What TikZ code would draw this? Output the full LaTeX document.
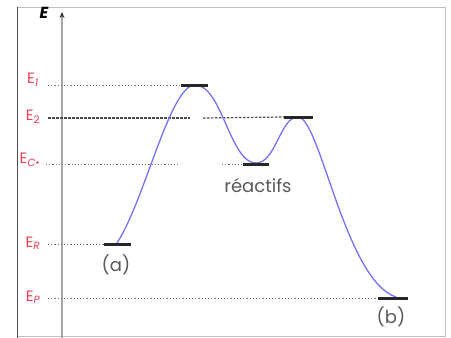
\documentclass[tikz,border=0pt]{standalone}
\usepackage{fontspec}
\setmainfont{Poppins}
\usetikzlibrary{arrows.meta}
\definecolor{lvlred}{RGB}{238,60,80}
\definecolor{curveblue}{RGB}{115,115,250}
\tikzset{
  frameline/.style={draw=black!25, line width=0.8pt},
  guide/.style={draw=black!55, line width=1pt, dash pattern=on 1.2pt off 2pt},
  guidedark/.style={draw=black!70, line width=1.2pt, dash pattern=on 2.5pt off 1.5pt},
  lvlbar/.style={draw=black!85, line width=3pt},
  lvllabel/.style={text=lvlred, font=\fontsize{15}{15}\selectfont, inner sep=0pt},
  txt/.style={text=black!65, font=\fontsize{18}{18}\selectfont, inner sep=0pt},
  curve/.style={draw=curveblue, line width=1.3pt}
}
\begin{document}
\begin{tikzpicture}[x=1pt,y=-1pt]
\useasboundingbox (0,0) rectangle (451,338);
% frame
\draw[frameline] (17,7) -- (445,7) -- (445,336) -- (17,336);
\draw[draw=black!70, line width=1pt] (17,7) -- (17,338);
% axis
\coordinate (axb) at (62,338);
\coordinate (axt) at (62,12);
\draw[draw=black!35, line width=2.4pt, -{Stealth[length=6pt,width=5pt,black!80]}] (axb) -- (axt);
\node[font=\fontsize{16}{16}\selectfont\bfseries\itshape, inner sep=0pt] (E) at (44,13) {E};
% level labels
\node[lvllabel] (l1) at (33,80) {E\textsubscript{\itshape 1}};
\node[lvllabel] (l2) at (33,117) {E\textsubscript{2}};
\node[lvllabel] (lc) at (30,160) {E\textsubscript{\itshape C\textbullet}};
\node[lvllabel] (lr) at (33,243) {E\textsubscript{\itshape R}};
\node[lvllabel] (lp) at (33,297) {E\textsubscript{\itshape P}};
% bars
\coordinate (b1a) at (181,85);  \coordinate (b1b) at (208,85);
\coordinate (b2a) at (284,117); \coordinate (b2b) at (313,117);
\coordinate (bca) at (243,164); \coordinate (bcb) at (269,164);
\coordinate (bra) at (104,244); \coordinate (brb) at (131,244);
\coordinate (bpa) at (378,298); \coordinate (bpb) at (408,298);
% guide lines
\coordinate (g1) at (48,85);
\coordinate (g2) at (48,118);
\coordinate (g2m) at (190,118);
\coordinate (g2n) at (203,118);
\coordinate (gc) at (46,164);
\coordinate (gcm) at (180,164);
\coordinate (gcn) at (222,164);
\coordinate (gr) at (48,244);
\coordinate (gp) at (48,298);
\draw[guide] (g1) -- (b1a);
\draw[guidedark] (g2) -- (g2m);
\draw[guidedark] (g2n) -- (b2a);
\draw[guide] (gc) -- (gcm);
\draw[guide] (gcn) -- (bca);
\draw[guide] (gr) -- (bra);
\draw[guide] (gp) -- (bpa);
% curve
\coordinate (c0) at (117,243);
\coordinate (c1) at (195,85);
\coordinate (c2) at (256,163);
\coordinate (c3) at (298,117);
\coordinate (c4) at (396,297);
\draw[curve] (c0) .. controls (145,200) and (170,85) .. (c1)
  .. controls (222,85) and (230,163) .. (c2)
  .. controls (276,163) and (280,117) .. (c3)
  .. controls (320,117) and (345,280) .. (c4);
\draw[lvlbar] (b1a) -- (b1b);
\draw[lvlbar] (b2a) -- (b2b);
\draw[lvlbar] (bca) -- (bcb);
\draw[lvlbar] (bra) -- (brb);
\draw[lvlbar] (bpa) -- (bpb);
% texts
\node[txt] (ta) at (116,265) {(a)};
\node[txt] (tr) at (258,186) {réactifs};
\node[txt] (tb) at (391,317) {(b)};
\end{tikzpicture}
\end{document}
